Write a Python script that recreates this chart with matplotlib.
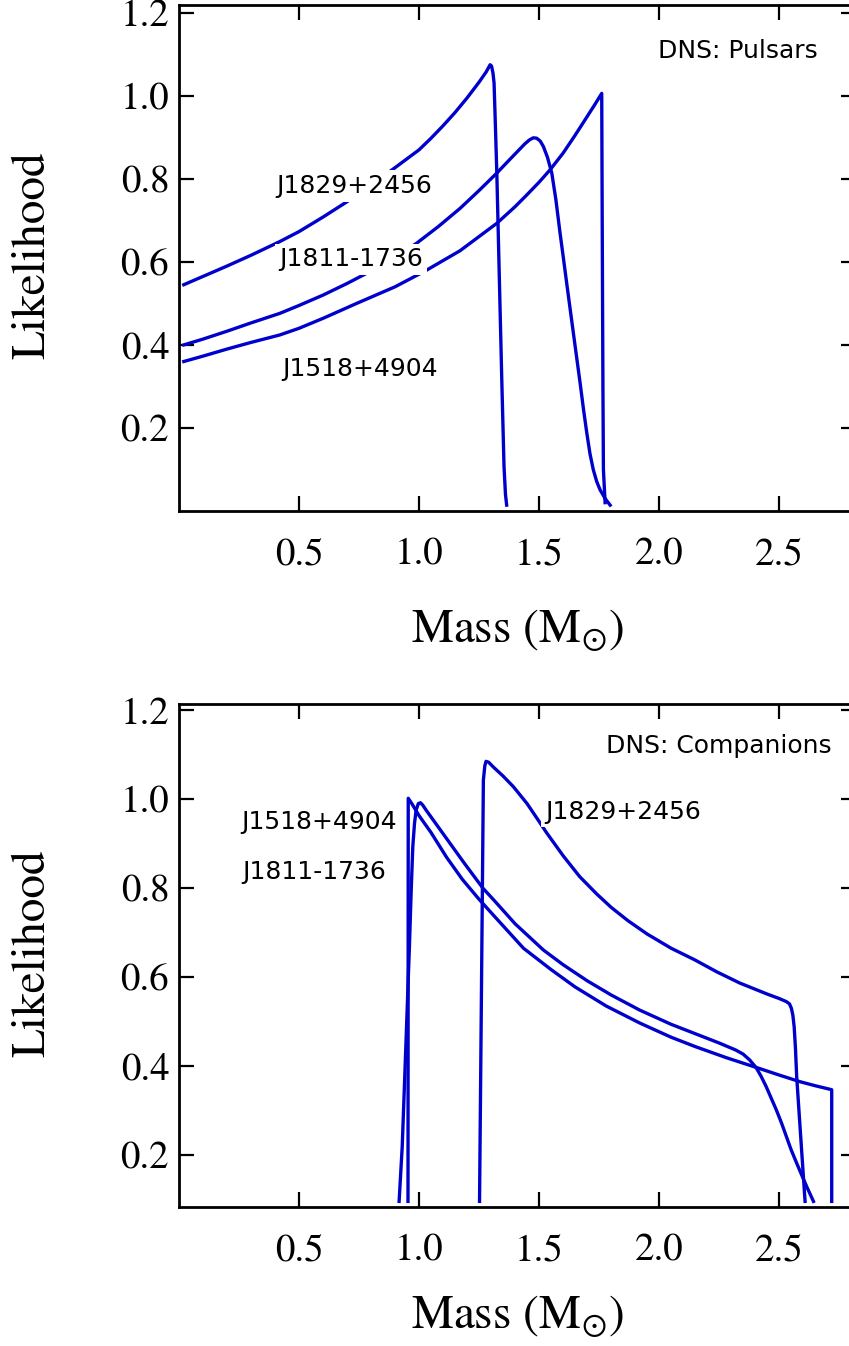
import matplotlib
matplotlib.use('Agg')
import matplotlib.pyplot as plt

# masses (Msun) and likelihoods
# top panel: DNS pulsars
psr_1829_m = [0.02, 0.1, 0.2, 0.3, 0.42, 0.5, 0.6, 0.7, 0.8, 0.9, 1.0, 1.05, 1.1, 1.15, 1.2, 1.25, 1.28,
              1.296, 1.302, 1.308, 1.3125, 1.318, 1.324, 1.335, 1.345, 1.354, 1.36, 1.365]
psr_1829_l = [0.545, 0.565, 0.59, 0.616, 0.649, 0.673, 0.708, 0.745, 0.785, 0.827, 0.870, 0.898, 0.928, 0.96, 0.995, 1.033, 1.058,
              1.075, 1.072, 1.055, 1.031, 0.93, 0.814, 0.549, 0.308, 0.107, 0.04, 0.014]

psr_1811_m = [0.02, 0.1, 0.2, 0.3, 0.42, 0.5, 0.6, 0.7, 0.8, 0.9, 0.99, 1.08, 1.171, 1.25, 1.324, 1.37, 1.41, 1.44,
              1.46, 1.476, 1.49, 1.505, 1.518, 1.535, 1.553, 1.57, 1.5875, 1.60, 1.615, 1.63, 1.643, 1.657, 1.671,
              1.685, 1.699, 1.712, 1.726, 1.74, 1.754, 1.775, 1.796]
psr_1811_l = [0.40, 0.414, 0.433, 0.453, 0.476, 0.495, 0.52, 0.548, 0.578, 0.61, 0.645, 0.685, 0.729, 0.772, 0.814, 0.842, 0.866, 0.884,
              0.894, 0.899, 0.898, 0.891, 0.878, 0.852, 0.814, 0.75, 0.669, 0.615, 0.549, 0.484, 0.428, 0.368, 0.308,
              0.245, 0.187, 0.138, 0.099, 0.071, 0.051, 0.03, 0.014]

psr_1518_m = [0.02, 0.1, 0.2, 0.3, 0.42, 0.5, 0.6, 0.74, 0.9, 1.025, 1.171, 1.324, 1.4, 1.45, 1.5, 1.546, 1.6, 1.65,
              1.7, 1.73, 1.761, 1.763, 1.766, 1.768, 1.775]
psr_1518_l = [0.36, 0.373, 0.39, 0.406, 0.424, 0.44, 0.464, 0.50, 0.54, 0.578, 0.627, 0.693, 0.733, 0.762, 0.792, 0.822, 0.862, 0.905,
              0.95, 0.977, 1.006, 0.7, 0.3, 0.1, 0.02]

# bottom panel: DNS companions
com_1518_m = [0.954, 0.955, 0.97, 1.0, 1.05, 1.114, 1.18, 1.25, 1.317, 1.435, 1.55, 1.65, 1.78, 1.919, 2.05, 2.15,
              2.28, 2.405, 2.5, 2.587, 2.65, 2.719, 2.719]
com_1518_l = [0.096, 1.002, 0.99, 0.963, 0.925, 0.87, 0.82, 0.775, 0.735, 0.665, 0.617, 0.578, 0.535, 0.497, 0.465, 0.444,
              0.419, 0.397, 0.38, 0.365, 0.356, 0.347, 0.096]

com_1811_m = [0.917, 0.93, 0.94, 0.95, 0.96, 0.967, 0.974, 0.981, 0.988, 0.997, 1.006, 1.015, 1.03, 1.07, 1.114, 1.19,
              1.266, 1.317, 1.4, 1.518, 1.6, 1.7, 1.8, 1.919, 2.05, 2.15, 2.25, 2.32, 2.35, 2.377, 2.405, 2.425,
              2.446, 2.467, 2.488, 2.51, 2.53, 2.55, 2.573, 2.595, 2.615, 2.643]
com_1811_l = [0.096, 0.22, 0.369, 0.52, 0.669, 0.79, 0.893, 0.945, 0.976, 0.99, 0.992, 0.987, 0.975, 0.945, 0.912, 0.855,
              0.8, 0.77, 0.72, 0.661, 0.628, 0.592, 0.56, 0.526, 0.494, 0.473, 0.452, 0.436, 0.427, 0.414, 0.396, 0.377,
              0.354, 0.328, 0.302, 0.272, 0.242, 0.212, 0.182, 0.154, 0.129, 0.096]

com_1829_m = [1.252, 1.268, 1.274, 1.279, 1.29, 1.31, 1.35, 1.393, 1.45, 1.5, 1.532, 1.6, 1.669, 1.74, 1.8, 1.87,
              1.95, 2.05, 2.148, 2.24, 2.335, 2.45, 2.5, 2.53, 2.543, 2.551, 2.557, 2.5625, 2.568, 2.573, 2.587, 2.601, 2.608]
com_1829_l = [0.096, 1.043, 1.075, 1.085, 1.083, 1.072, 1.052, 1.028, 0.99, 0.95, 0.924, 0.873, 0.826, 0.787, 0.757, 0.727,
              0.697, 0.665, 0.639, 0.612, 0.587, 0.562, 0.552, 0.545, 0.54, 0.530, 0.515, 0.489, 0.44, 0.377, 0.264, 0.152, 0.096]

xticks = [0.5, 1.0, 1.5, 2.0, 2.5]
yticks = [0.2, 0.4, 0.6, 0.8, 1.0, 1.2]

plt.rcParams['mathtext.fontset'] = 'stix'
serif = 'STIXGeneral'
sans = 'DejaVu Sans'
blue = '#0000cd'

fig = plt.figure(figsize=(8.49, 13.46), dpi=100)
ax1 = fig.add_axes([0.2108, 0.6204, 0.7974, 0.3759])
ax2 = fig.add_axes([0.2108, 0.1033, 0.7974, 0.3737])


def style_axes(ax, ylim, xlab_y):
    ax.set_xlim(0, 2.82)
    ax.set_ylim(*ylim)
    ax.set_xticks(xticks)
    ax.set_yticks(yticks)
    ax.set_xticklabels([f'{t:.1f}' for t in xticks], fontfamily=serif, fontsize=28)
    ax.set_yticklabels([f'{t:.1f}' for t in yticks], fontfamily=serif, fontsize=28)
    ax.tick_params(direction='in', top=True, right=True, length=11, width=1.6)
    ax.tick_params(axis='x', pad=19)
    ax.tick_params(axis='y', pad=7)
    for s in ax.spines.values():
        s.set_linewidth(2.0)
    ax.set_xlabel(r'Mass (M$_{\odot}$)', fontfamily=serif, fontsize=34)
    ax.set_ylabel('Likelihood', fontfamily=serif, fontsize=34)
    ax.xaxis.set_label_coords(0.5, xlab_y)
    ax.yaxis.set_label_coords(-0.184, 0.505)


lbl = dict(fontfamily=sans, fontsize=18, va='center', zorder=5,
           bbox=dict(boxstyle='square,pad=0.15', fc='white', ec='none'))

# pulsars
ax1.plot(psr_1829_m, psr_1829_l, color=blue, lw=2.4)
ax1.plot(psr_1811_m, psr_1811_l, color=blue, lw=2.4)
ax1.plot(psr_1518_m, psr_1518_l, color=blue, lw=2.4)
ax1.text(0.404, 0.783, 'J1829+2456', ha='left', **lbl)
ax1.text(0.417, 0.606, 'J1811-1736', ha='left', **lbl)
ax1.text(0.429, 0.343, 'J1518+4904', ha='left', **lbl)
ax1.text(2.6625, 1.107, 'DNS: Pulsars', ha='right', **lbl)
style_axes(ax1, (0, 1.219), -0.19)

# companions
ax2.plot(com_1518_m, com_1518_l, color=blue, lw=2.4)
ax2.plot(com_1811_m, com_1811_l, color=blue, lw=2.4)
ax2.plot(com_1829_m, com_1829_l, color=blue, lw=2.4)
ax2.text(0.258, 0.949, 'J1518+4904', ha='left', **lbl)
ax2.text(0.2625, 0.837, 'J1811-1736', ha='left', **lbl)
ax2.text(1.525, 0.972, 'J1829+2456', ha='left', **lbl)
ax2.text(2.717, 1.12, 'DNS: Companions', ha='right', **lbl)
style_axes(ax2, (0.0835, 1.214), -0.172)

fig.savefig('out.png', dpi=100)
